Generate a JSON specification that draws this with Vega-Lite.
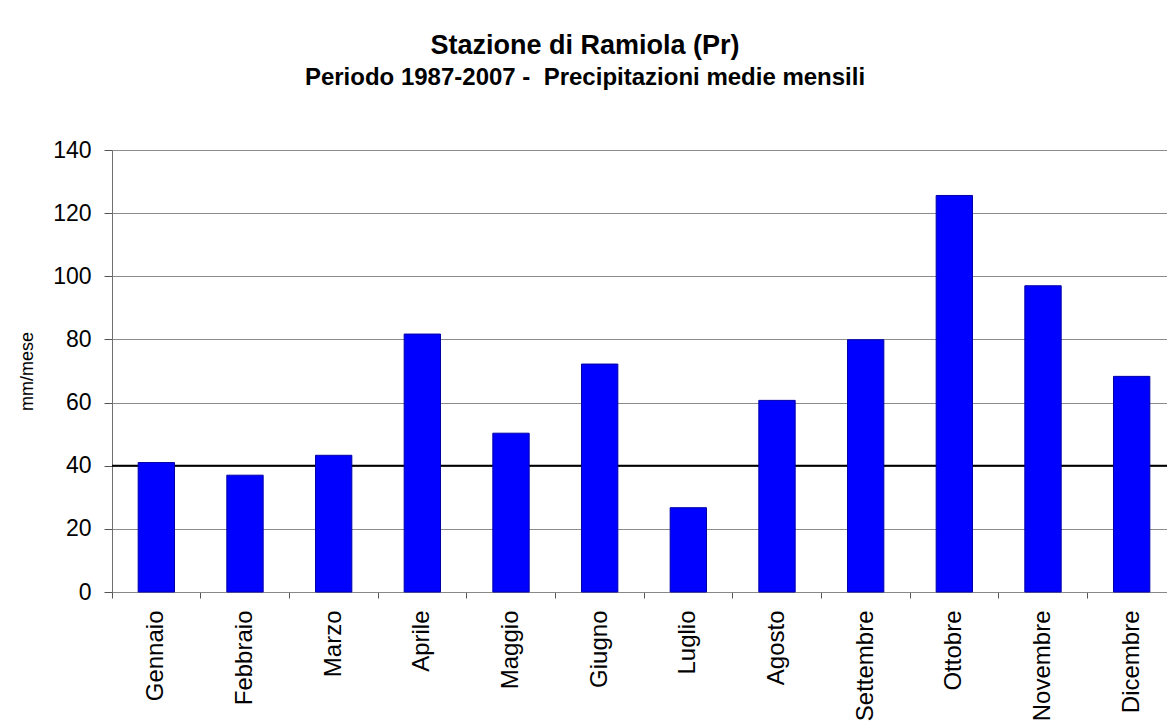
{
  "$schema": "https://vega.github.io/schema/vega-lite/v6.json",
  "width": 1064,
  "height": 442,
  "padding": {"left": 18, "top": 32, "right": 0, "bottom": 0},
  "background": "white",
  "title": {
    "text": "Stazione di Ramiola (Pr)",
    "subtitle": "Periodo 1987-2007 -\u00a0 Precipitazioni medie mensili",
    "anchor": "middle",
    "frame": "group",
    "dx": -59,
    "font": "Liberation Sans",
    "fontSize": 27,
    "fontWeight": "bold",
    "color": "#000000",
    "subtitleFont": "Liberation Sans",
    "subtitleFontSize": 24,
    "subtitleFontWeight": "bold",
    "subtitleColor": "#000000",
    "subtitlePadding": 6,
    "offset": 48
  },
  "data": {
    "values": [
      {"mese": "Gennaio", "mm": 41.0},
      {"mese": "Febbraio", "mm": 37.0},
      {"mese": "Marzo", "mm": 43.3},
      {"mese": "Aprile", "mm": 81.7},
      {"mese": "Maggio", "mm": 50.3},
      {"mese": "Giugno", "mm": 72.2},
      {"mese": "Luglio", "mm": 26.7},
      {"mese": "Agosto", "mm": 60.7},
      {"mese": "Settembre", "mm": 79.9},
      {"mese": "Ottobre", "mm": 125.6},
      {"mese": "Novembre", "mm": 97.0},
      {"mese": "Dicembre", "mm": 68.3}
    ]
  },
  "layer": [
    {
      "data": {"values": [{"livello": 40}]},
      "mark": {"type": "rule", "color": "#000000", "strokeWidth": 2},
      "encoding": {
        "y": {"field": "livello", "type": "quantitative"}
      }
    },
    {
      "mark": {
        "type": "bar",
        "width": {"band": 0.41},
        "fill": "#0000ff",
        "stroke": "#0000a8",
        "strokeWidth": 1
      },
      "encoding": {
        "x": {
          "field": "mese",
          "type": "nominal",
          "sort": null,
          "scale": {"paddingInner": 0, "paddingOuter": 0},
          "axis": {
            "title": null,
            "labelAngle": -90,
            "labelAlign": "right",
            "labelBaseline": "middle",
            "labelFont": "Liberation Sans",
            "labelFontSize": 24,
            "labelColor": "#000000",
            "labelPadding": 12,
            "tickSize": 6,
            "tickColor": "#555555",
            "domainColor": "#888888",
            "bandPosition": 0,
            "grid": false
          }
        },
        "y": {
          "field": "mm",
          "type": "quantitative",
          "scale": {"domain": [0, 140], "nice": false},
          "axis": {
            "title": "mm/mese",
            "titleFont": "Liberation Sans",
            "titleFontSize": 18,
            "titleFontWeight": "normal",
            "titleColor": "#000000",
            "titlePadding": 16,
            "values": [0, 20, 40, 60, 80, 100, 120, 140],
            "labelFont": "Liberation Sans",
            "labelFontSize": 23,
            "labelColor": "#000000",
            "labelPadding": 13,
            "tickSize": 8,
            "tickColor": "#555555",
            "domainColor": "#707070",
            "grid": true,
            "gridColor": "#8c8c8c",
            "gridWidth": 1
          }
        }
      }
    }
  ],
  "config": {
    "view": {"stroke": null}
  }
}
